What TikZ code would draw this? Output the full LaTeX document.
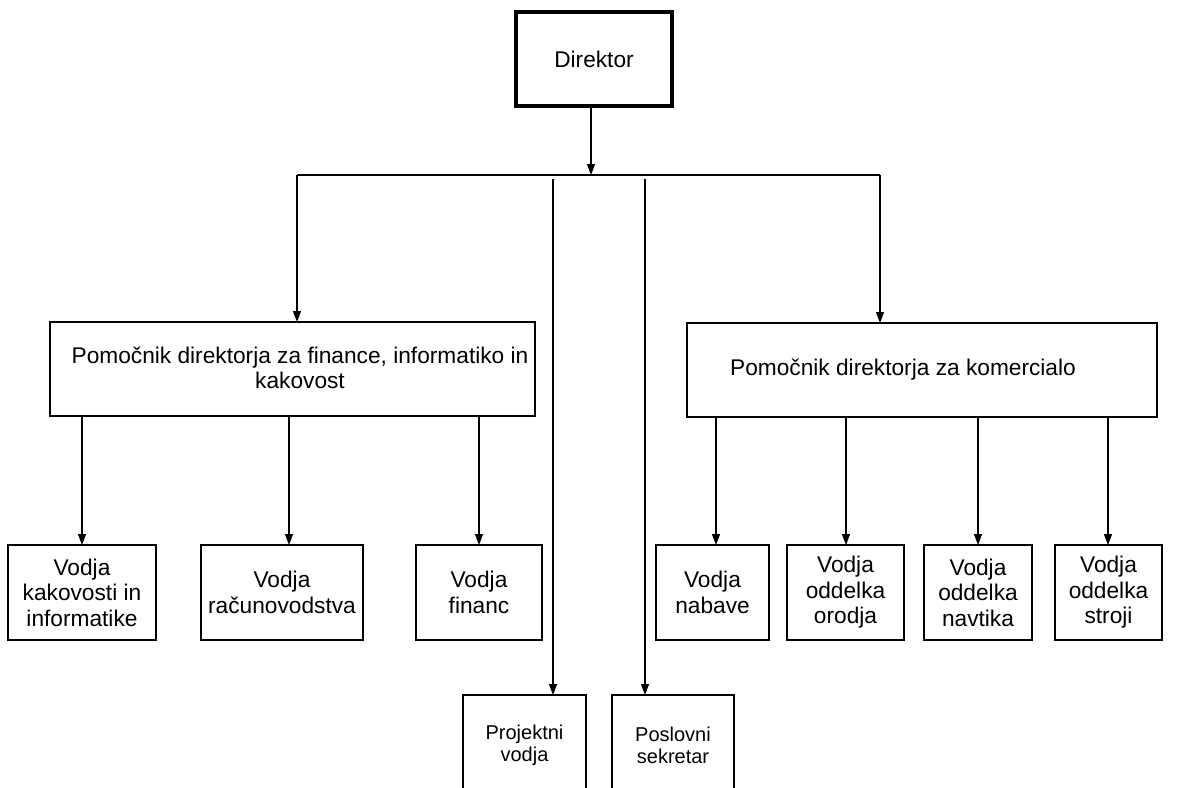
\documentclass[tikz,border=0pt]{standalone}
\usepackage{fontspec}
\setmainfont{Liberation Sans}
\usetikzlibrary{arrows.meta}
\tikzset{
  box/.style={draw=black, line width=1.3pt, inner sep=0pt, outer sep=0pt,
    align=center, font=\fontsize{22.7}{25.5}\selectfont},
  chief/.style={box, line width=4pt},
  small/.style={box, font=\fontsize{20}{22}\selectfont},
  lbl/.style={inner sep=0pt, align=center, font=\fontsize{22.7}{25}\selectfont},
  link/.style={draw=black, line width=1.1pt},
  arr/.style={link, -{Triangle[length=11pt,width=8pt]}}
}
\begin{document}
\begin{tikzpicture}[x=1pt,y=-1pt]
\useasboundingbox (0,0) rectangle (1204,787);
\clip (0,0) rectangle (1204,787);
\fill[white] (0,0) rectangle (1204,787);

% top
\node[chief, minimum width=156, minimum height=94] (dir) at (594,59) {Direktor};

% assistants
\node[box, minimum width=485, minimum height=94] (A) at (292.5,369) {};
\node[lbl] (Atxt) at (300,368) {Pomočnik direktorja za finance, informatiko in\\kakovost};
\node[box, minimum width=470, minimum height=94] (B) at (922,370) {};
\node[lbl] (Btxt) at (903,370) {Pomočnik direktorja za komercialo};

% leaves of A
\node[box, minimum width=148, minimum height=95] (a1) at (82,592.5) {Vodja\\kakovosti in\\informatike};
\node[box, minimum width=162, minimum height=95] (a2) at (282,592.5) {Vodja\\računovodstva};
\node[box, minimum width=126, minimum height=95] (a3) at (479,592.5) {Vodja\\financ};

% leaves of B
\node[box, minimum width=113, minimum height=95] (b1) at (712.5,592.5) {Vodja\\nabave};
\node[box, minimum width=117, minimum height=95] (b2) at (845.5,592.5) {Vodja\\oddelka\\orodja};
\node[box, minimum width=108, minimum height=95] (b3) at (978,592.5) {Vodja\\oddelka\\navtika};
\node[box, minimum width=107, minimum height=95] (b4) at (1108.5,592.5) {Vodja\\oddelka\\stroji};

% staff positions
\node[small, minimum width=123, minimum height=100] (P) at (524.5,745) {Projektni\\vodja};
\node[small, minimum width=122, minimum height=100] (S) at (673,745) {Poslovni\\sekretar};

% bus
\coordinate (j) at (591,175);
\coordinate (bl) at (297,175);
\coordinate (br) at (880,175);
\coordinate (pj) at (553,179);
\coordinate (sj) at (645,179);

\draw[arr] (dir.south -| j) -- (j);
\draw[link] (bl) -- (br);
\draw[arr] (bl) -- (A.north -| bl);
\draw[arr] (br) -- (B.north -| br);
\draw[arr] (pj) -- (P.north -| pj);
\draw[arr] (sj) -- (S.north -| sj);

% A to its leaves
\coordinate (x1) at (82,0);
\coordinate (x2) at (289,0);
\coordinate (x3) at (479,0);
\draw[arr] (A.south -| x1) -- (a1.north -| x1);
\draw[arr] (A.south -| x2) -- (a2.north -| x2);
\draw[arr] (A.south -| x3) -- (a3.north -| x3);

% B to its leaves
\coordinate (y1) at (716,0);
\coordinate (y2) at (846,0);
\coordinate (y3) at (978,0);
\coordinate (y4) at (1108,0);
\draw[arr] (B.south -| y1) -- (b1.north -| y1);
\draw[arr] (B.south -| y2) -- (b2.north -| y2);
\draw[arr] (B.south -| y3) -- (b3.north -| y3);
\draw[arr] (B.south -| y4) -- (b4.north -| y4);
\end{tikzpicture}
\end{document}
